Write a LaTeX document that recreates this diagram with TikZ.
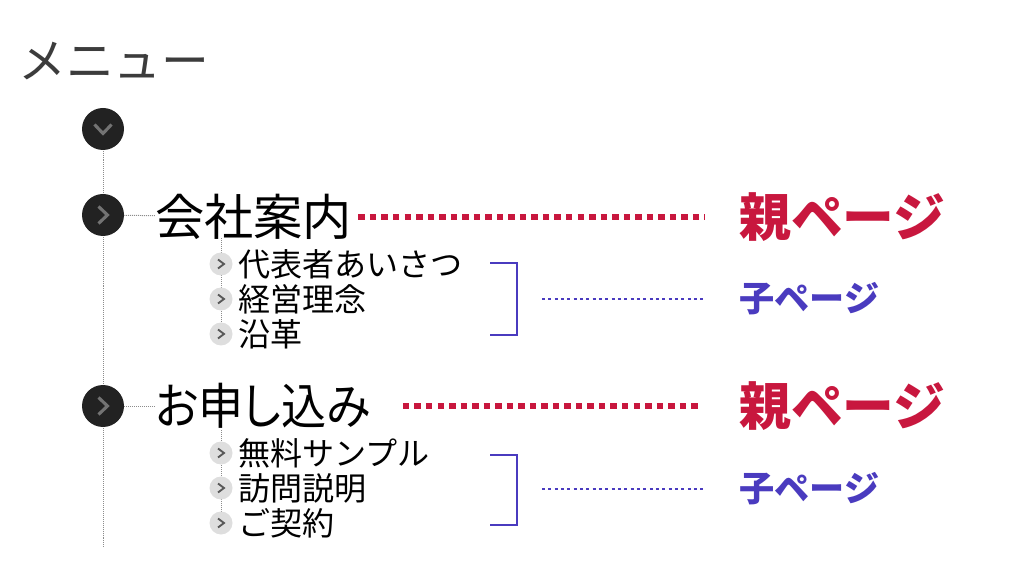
\documentclass[tikz,border=0pt]{standalone}
\usepackage{fontspec}
\setmainfont{Noto Sans CJK JP}
\definecolor{menugray}{HTML}{3C3C3C}
\definecolor{markdark}{HTML}{222222}
\definecolor{oyared}{HTML}{C8173E}
\definecolor{koblue}{HTML}{4A3BBF}
\begin{document}
\begin{tikzpicture}[x=0.025cm,y=-0.025cm,
  bigmark/.style={circle,fill=markdark,minimum size=42*0.025cm,inner sep=0pt},
  smallmark/.style={circle,fill=black!13,minimum size=23*0.025cm,inner sep=0pt},
  bigchev/.style={draw=black!55,line width=2.2pt},
  smallchev/.style={draw=black!65,line width=1.3pt},
  guide/.style={draw=black!45,line width=0.7pt,dash pattern=on 0.7pt off 0.7pt},
  parent/.style={anchor=west,inner sep=0pt,font=\fontsize{35}{35}\selectfont},
  child/.style={anchor=west,inner sep=0pt,font=\fontsize{22.8}{23}\selectfont},
  oyalabel/.style={anchor=west,inner sep=0pt,text=oyared,font=\bfseries\fontsize{36.8}{37}\selectfont},
  kolabel/.style={anchor=west,inner sep=0pt,text=koblue,font=\bfseries\fontsize{25}{25}\selectfont},
  reddots/.style={draw=oyared,line width=3.6pt,dash pattern=on 4.6pt off 3.6pt},
  bluedots/.style={draw=koblue,line width=2pt,dash pattern=on 2.1pt off 2.4pt},
  bracket/.style={draw=koblue,line width=1.8pt}]
\useasboundingbox (0,0) rectangle (1024,576);

\node[anchor=west,inner sep=0pt,text=menugray,font=\fontsize{34}{34}\selectfont] (title) at (18,61) {メニュー};

% main line
\coordinate (bottom) at (103,548);
\draw[guide] (103,129) -- (bottom);

\node[bigmark] (m0) at (103,129) {};
\draw[bigchev] ([shift={(-8.5,-4.5)}]m0.center) -- ([shift={(0,4.5)}]m0.center) -- ([shift={(8.5,-4.5)}]m0.center);

% first group
\node[bigmark] (m1) at (103,215) {};
\draw[bigchev] ([shift={(-4.5,-8.5)}]m1.center) -- ([shift={(4.5,0)}]m1.center) -- ([shift={(-4.5,8.5)}]m1.center);
\node[parent] (p1) at (155,217) {会社案内};
\draw[guide] (m1) -- (p1);
\node[oyalabel] (o1) at (739,217) {親ページ};
\draw[reddots,shorten <=6*0.025cm,shorten >=34*0.025cm] (p1.east) -- (o1.west);

\coordinate (g1) at (221,238);
\draw[guide] (g1) -- (221,336);
\foreach \t [count=\i] in {代表者あいさつ,経営理念,沿革}
{
    \node[smallmark] (s1\i) at (221,229+35*\i) {};
    \draw[smallchev] ([shift={(-3,-4.5)}]s1\i.center) -- ([shift={(3,0)}]s1\i.center) -- ([shift={(-3,4.5)}]s1\i.center);
    \node[child] (c1\i) at (238,229+35*\i) {\t};
}
\coordinate (k1) at (517,299);
\draw[bracket] (490,263) -| (517,335) -- (490,335);
\node[kolabel] (t1) at (739,299) {子ページ};
\draw[bluedots,shorten <=25*0.025cm,shorten >=35*0.025cm] (k1) -- (t1.west);

% second group
\node[bigmark] (m2) at (103,406) {};
\draw[bigchev] ([shift={(-4.5,-8.5)}]m2.center) -- ([shift={(4.5,0)}]m2.center) -- ([shift={(-4.5,8.5)}]m2.center);
\node[parent] (p2) at (155,406) {\scalebox{0.915}[1]{\addfontfeatures{RawFeature=+palt}お申し込み}};
\draw[guide] (m2) -- (p2);
\node[oyalabel] (o2) at (739,406) {親ページ};
\draw[reddots,shorten <=32*0.025cm,shorten >=39*0.025cm] (p2.east) -- (o2.west);

\coordinate (g2) at (221,430);
\draw[guide] (g2) -- (221,527);
\foreach \t [count=\i] in {無料サンプル,訪問説明,ご契約}
{
    \node[smallmark] (s2\i) at (221,418+35*\i) {};
    \draw[smallchev] ([shift={(-3,-4.5)}]s2\i.center) -- ([shift={(3,0)}]s2\i.center) -- ([shift={(-3,4.5)}]s2\i.center);
    \node[child] (c2\i) at (238,418+35*\i) {\t};
}
\coordinate (k2) at (517,489);
\draw[bracket] (490,455) -| (517,525) -- (490,525);
\node[kolabel] (t2) at (739,489) {子ページ};
\draw[bluedots,shorten <=25*0.025cm,shorten >=35*0.025cm] (k2) -- (t2.west);

\end{tikzpicture}
\end{document}
